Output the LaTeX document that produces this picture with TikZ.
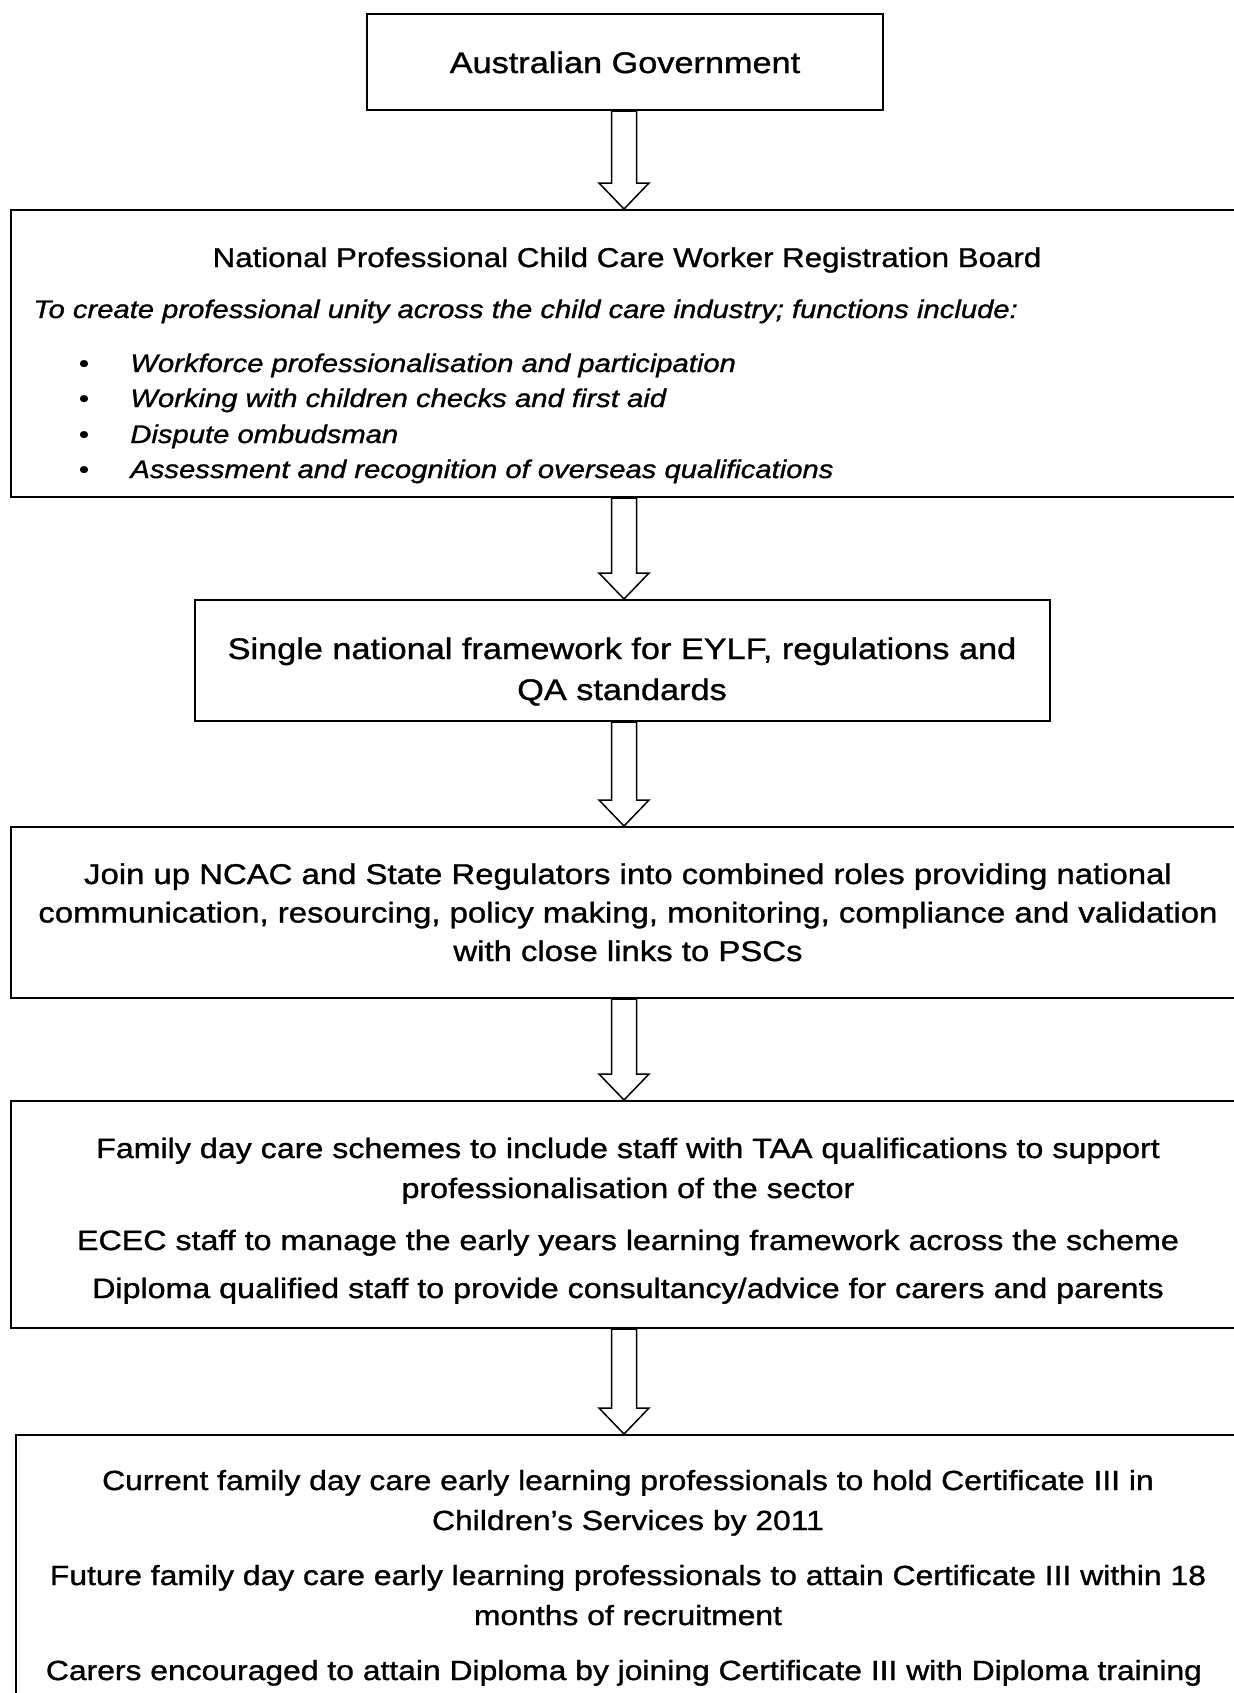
\documentclass[tikz,border=0pt]{standalone}
\usepackage{fontspec}
\setmainfont{Liberation Sans}[FakeStretch=1.15,FakeBold=1.1]
\usetikzlibrary{fit,calc}

\newcommand{\blockarrow}[2]{\draw[blockarrow] let \p1=(axis |- #1.south), \p2=(axis |- #2.north) in
        (\x1-6.25pt,\y1) -- (\x1-6.25pt,\y2+13pt) -- (\x1-12.5pt,\y2+13pt) -- (\x2,\y2)
        -- (\x1+12.5pt,\y2+13pt) -- (\x1+6.25pt,\y2+13pt) -- (\x1+6.25pt,\y1) -- cycle;}
\newcommand{\bulletitem}[3]{\node[bull] (#1dot) at (84,#2) {\textbullet};
        \node[item] (#1) at (130,#2) {#3};}

\begin{document}
\begin{tikzpicture}
                [
                x=0.5pt, y=-0.5pt,
                box/.style={draw=black, line width=1pt, inner sep=0pt},
                blockarrow/.style={draw=black, fill=white, line width=0.75pt},
                big/.style={font=\fontsize{14.9pt}{20.5pt}\selectfont, anchor=base, inner sep=0pt, align=center},
                txt/.style={font=\fontsize{14pt}{20pt}\selectfont, anchor=base, inner sep=0pt, align=center},
                head/.style={font=\fontsize{13.6pt}{18pt}\selectfont, anchor=base, inner sep=0pt},
                item/.style={font=\fontsize{12.7pt}{17pt}\selectfont\itshape, anchor=base west, inner sep=0pt},
                bull/.style={font=\fontsize{12.7pt}{17pt}\selectfont, anchor=base, inner sep=0pt},
                ]
                \clip (0,0) rectangle (1234,1693);
                \coordinate (axis) at (624,0);
                % boxes
                \node[box, fit={(367,14) (883,110)}] (gov) {};
                \node[box, fit={(11,210) (1260,497)}] (board) {};
                \node[box, fit={(195,600) (1050,721)}] (frame) {};
                \node[box, fit={(11,827) (1260,998)}] (regul) {};
                \node[box, fit={(11,1101) (1260,1328)}] (fdc) {};
                \node[box, fit={(16,1435) (1260,1760)}] (cert) {};
                % arrows
                \blockarrow{gov}{board}
                \blockarrow{board}{frame}
                \blockarrow{frame}{regul}
                \blockarrow{regul}{fdc}
                \blockarrow{fdc}{cert}
                % texts (base = last line)
                \node[big] (govtext) at (625,73) {Australian Government};
                \node[head] (boardtext) at (627,267) {National Professional Child Care Worker Registration Board};
                \node[item] (boardintro) at (33,318) {To create professional unity across the child care industry; functions include:};
                \bulletitem{work}{372}{Workforce professionalisation and participation}
                \bulletitem{check}{407}{Working with children checks and first aid}
                \bulletitem{dispute}{443}{Dispute ombudsman}
                \bulletitem{overseas}{478}{Assessment and recognition of overseas qualifications}
                \node[big] (frametext) at (622,700) {Single national framework for EYLF, regulations and\\QA standards};
                \node[txt, font=\fontsize{14.3pt}{19.25pt}\selectfont] (regultext) at (628,961) {Join up NCAC and State Regulators into combined roles providing national\\communication, resourcing, policy making, monitoring, compliance and validation\\with close links to PSCs};
                \node[txt] (fdcone) at (628,1198) {Family day care schemes to include staff with TAA qualifications to support\\professionalisation of the sector};
                \node[txt] (fdctwo) at (628,1250) {ECEC staff to manage the early years learning framework across the scheme};
                \node[txt] (fdcthree) at (628,1298) {Diploma qualified staff to provide consultancy/advice for carers and parents};
                \begin{scope}[txt/.append style={font=\fontsize{13.85pt}{20pt}\selectfont}]
                \node[txt] (certone) at (628,1530) {Current family day care early learning professionals to hold Certificate III in\\Children’s Services by 2011};
                \node[txt] (certtwo) at (628,1625) {Future family day care early learning professionals to attain Certificate III within 18\\months of recruitment};
                \node[txt] (certthree) at (624,1680) {Carers encouraged to attain Diploma by joining Certificate III with Diploma training};
                \end{scope}
\end{tikzpicture}
\end{document}
